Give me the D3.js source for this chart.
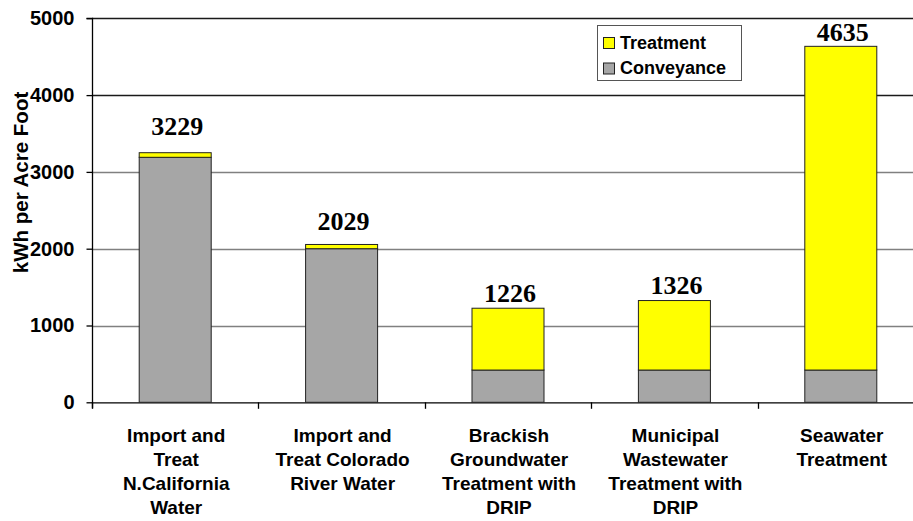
<!DOCTYPE html>
<html>
<head>
<meta charset="utf-8">
<script src="https://cdn.jsdelivr.net/npm/d3@7"></script>
<style>
html,body{margin:0;padding:0;background:#fff;}
svg{display:block;}
</style>
</head>
<body>
<svg id="chart" width="913" height="521"></svg>
<script>
// ---- data ----
const categories = [
  ["Import and", "Treat", "N.California", "Water"],
  ["Import and", "Treat Colorado", "River Water"],
  ["Brackish", "Groundwater", "Treatment with", "DRIP"],
  ["Municipal", "Wastewater", "Treatment with", "DRIP"],
  ["Seawater", "Treatment"]
];
const conveyance = [3190, 2000, 420, 420, 420];
const treatment  = [60, 55, 805, 905, 4215];
const totalLabels = ["3229", "2029", "1226", "1326", "4635"];
const yTicks = [0, 1000, 2000, 3000, 4000, 5000];
const seriesNames = ["Treatment", "Conveyance"];
// layout: pixel gap between bar top and its label baseline
const labelGap = [18, 14, 6, 7, 5];

// ---- layout ----
const svg = d3.select("#chart");
const pLeft = 92, pRight = 924, pTop = 18.3, pBottom = 402.3;
const x = d3.scaleBand().domain(d3.range(categories.length)).range([pLeft, pRight]).paddingInner(0).paddingOuter(0);
const y = d3.scaleLinear().domain([0, 5000]).range([pBottom, pTop]);
const barW = 72;
const colors = {Treatment: "#ffff00", Conveyance: "#a6a6a6"};

// gridlines
svg.append("g").selectAll("line").data(yTicks.filter(d => d > 0)).join("line")
  .attr("x1", pLeft).attr("x2", pRight)
  .attr("y1", d => Math.round(y(d)) + 0.5).attr("y2", d => Math.round(y(d)) + 0.5)
  .attr("stroke", d => d >= 4000 ? "#1a1a1a" : "#808080")
  .attr("stroke-width", d => d >= 4000 ? 1.3 : 1.6);

// y axis
const yAxis = d3.axisLeft(y).tickValues(yTicks).tickSize(6).tickPadding(12).tickFormat(d3.format("d"));
const gy = svg.append("g").attr("transform", `translate(${pLeft + 0.5},0)`).call(yAxis);
gy.select(".domain").attr("stroke", "#000").attr("stroke-width", 1.3).attr("d", `M-6,${pTop}H0V${pBottom + 6}`);
gy.selectAll(".tick line").attr("stroke", "#000").attr("stroke-width", 1.3);
gy.selectAll(".tick text").attr("fill", "#000")
  .style("font-family", "Arial, 'Liberation Sans', sans-serif").style("font-weight", "bold").style("font-size", "20px");

// x axis
const xAxis = d3.axisBottom(x).tickSize(0).tickFormat("");
const gx = svg.append("g").attr("transform", `translate(0,${pBottom + 0.5})`).call(xAxis);
gx.select(".domain").attr("stroke", "#000").attr("stroke-width", 1.3).attr("d", `M${pLeft},0H${pRight}`);
// category boundary ticks
svg.append("g").selectAll("line").data(d3.range(categories.length + 1)).join("line")
  .attr("x1", i => Math.round(pLeft + i * x.bandwidth()) + 0.5)
  .attr("x2", i => Math.round(pLeft + i * x.bandwidth()) + 0.5)
  .attr("y1", pBottom).attr("y2", pBottom + 6.5)
  .attr("stroke", "#000").attr("stroke-width", 1.3);

// y title
svg.append("text")
  .attr("transform", `translate(28,182.5) rotate(-90)`)
  .attr("text-anchor", "middle")
  .style("font-family", "Arial, 'Liberation Sans', sans-serif").style("font-weight", "bold").style("font-size", "20.5px")
  .text("kWh per Acre Foot");

// bars
const stackData = categories.map((c, i) => ({i, Conveyance: conveyance[i], Treatment: treatment[i]}));
const stack = d3.stack().keys(["Conveyance", "Treatment"])(stackData);
const gBars = svg.append("g");
stack.forEach(layer => {
  gBars.selectAll(null).data(layer).join("rect")
    .attr("x", d => x(d.data.i) + x.bandwidth() / 2 - barW / 2)
    .attr("width", barW)
    .attr("y", d => y(d[1]))
    .attr("height", d => y(d[0]) - y(d[1]))
    .attr("fill", colors[layer.key])
    .attr("stroke", "#222").attr("stroke-width", 1);
});

// value labels
svg.append("g").selectAll("text").data(stackData).join("text")
  .attr("x", d => x(d.i) + x.bandwidth() / 2 + 2)
  .attr("y", d => y(d.Conveyance + d.Treatment) - labelGap[d.i])
  .attr("text-anchor", "middle")
  .style("font-family", "'Times New Roman', 'Liberation Serif', serif").style("font-weight", "bold").style("font-size", "26px")
  .text(d => totalLabels[d.i]);

// category labels
const gCat = svg.append("g");
categories.forEach((lines, i) => {
  const t = gCat.append("text")
    .attr("x", x(i) + x.bandwidth() / 2 + 1)
    .attr("y", 441.5)
    .attr("text-anchor", "middle")
    .style("font-family", "Arial, 'Liberation Sans', sans-serif").style("font-weight", "bold").style("font-size", "19px");
  lines.forEach((ln, k) => {
    t.append("tspan").attr("x", x(i) + x.bandwidth() / 2 + 1).attr("dy", k === 0 ? 0 : 24.3).text(ln);
  });
});

// legend
const lg = svg.append("g");
lg.append("rect").attr("x", 597.5).attr("y", 25.5).attr("width", 144).attr("height", 55)
  .attr("fill", "#fff").attr("stroke", "#555").attr("stroke-width", 1);
seriesNames.forEach((s, k) => {
  lg.append("rect").attr("x", 603.5).attr("y", 37.5 + k * 25.5).attr("width", 11).attr("height", 11)
    .attr("fill", colors[s]).attr("stroke", "#222").attr("stroke-width", 1);
  lg.append("text").attr("x", 620).attr("y", 48.5 + k * 25.5)
    .style("font-family", "Arial, 'Liberation Sans', sans-serif").style("font-weight", "bold").style("font-size", "18px")
    .text(s);
});
</script>
</body>
</html>
